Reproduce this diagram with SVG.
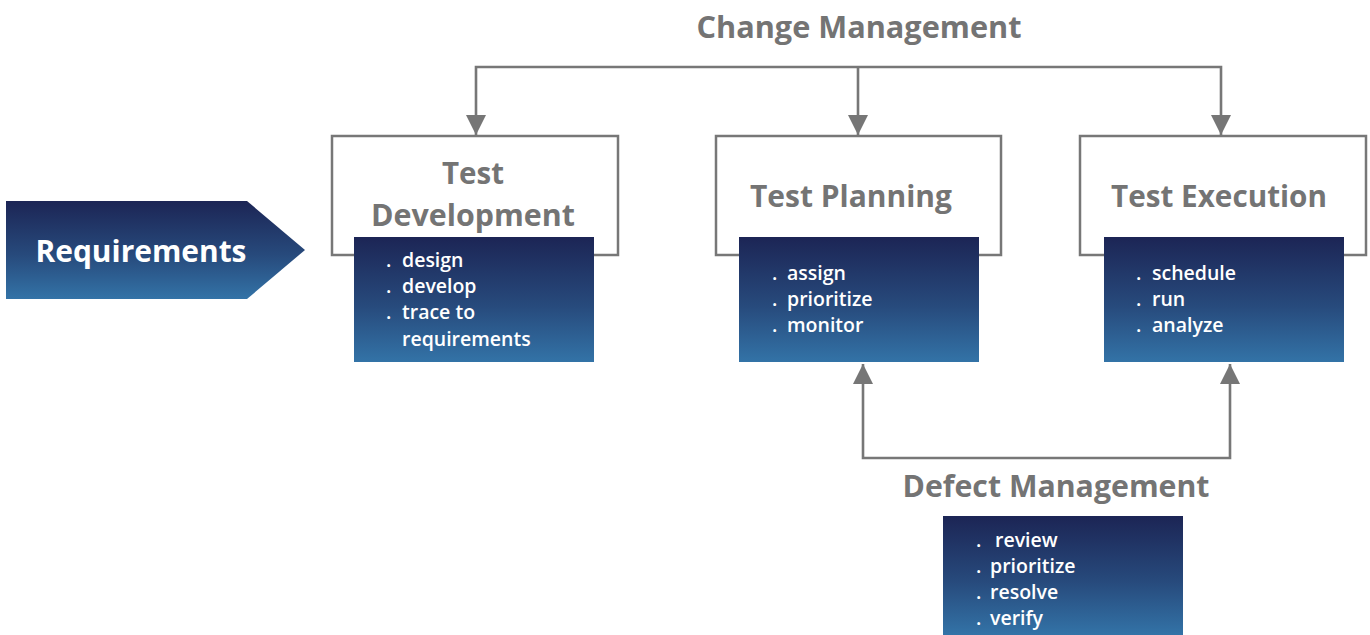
<svg xmlns="http://www.w3.org/2000/svg" width="1370" height="635" viewBox="0 0 1370 635">
  <defs>
    <linearGradient id="navy" x1="0" y1="0" x2="0" y2="1">
      <stop offset="0" stop-color="#1c2555"/>
      <stop offset="0.55" stop-color="#274a7c"/>
      <stop offset="1" stop-color="#3373a7"/>
    </linearGradient>
    <marker id="head" viewBox="0 0 20 20" refX="20" refY="10" markerWidth="20" markerHeight="20" markerUnits="userSpaceOnUse" orient="auto">
      <path d="M0,0 L20,10 L0,20 z" fill="#767676"/>
    </marker>
    <style>
      .frame { fill: #ffffff; stroke: #777777; stroke-width: 2.5; }
      .panel { fill: url(#navy); }
      .title { font-family: "Open Sans", "Liberation Sans", sans-serif; font-weight: 700; font-size: 30px; fill: #747474; text-anchor: middle; }
      .item { font-family: "Open Sans", "Liberation Sans", sans-serif; font-weight: 600; font-size: 19.5px; fill: #ffffff; }
      .link { fill: none; stroke: #777777; stroke-width: 2.6; marker-end: url(#head); }
    </style>
  </defs>

  <rect width="1370" height="635" fill="#ffffff"/>

  <!-- connectors -->
  <g id="connectors">
    <path class="link" d="M858,67 H476 V135"/>
    <path class="link" d="M858,67 V135"/>
    <path class="link" d="M858,67 H1221 V135"/>
    <path class="link" d="M1046,458 H863 V364"/>
    <path class="link" d="M1046,458 H1230 V364"/>
  </g>

  <!-- headings over the connectors -->
  <g id="change-management">
    <text class="title" x="859" y="38" textLength="325" lengthAdjust="spacingAndGlyphs">Change Management</text>
  </g>
  <g id="defect-management">
    <text class="title" x="1056" y="497" textLength="307" lengthAdjust="spacingAndGlyphs">Defect Management</text>
    <rect class="panel" x="943" y="516" width="240" height="119"/>
    <text class="item" x="976" y="547">.</text>
    <text class="item" x="995" y="547">review</text>
    <text class="item" x="976" y="573">.</text>
    <text class="item" x="990" y="573">prioritize</text>
    <text class="item" x="976" y="599">.</text>
    <text class="item" x="990" y="599">resolve</text>
    <text class="item" x="976" y="625">.</text>
    <text class="item" x="990" y="625">verify</text>
  </g>

  <!-- input arrow -->
  <g id="requirements">
    <polygon class="panel" points="6,201 247,201 305,250 247,299 6,299"/>
    <text x="141" y="262" font-family="Open Sans, Liberation Sans, sans-serif" font-weight="700" font-size="31" fill="#ffffff" text-anchor="middle" textLength="211" lengthAdjust="spacingAndGlyphs">Requirements</text>
  </g>

  <g id="test-development">
    <rect class="frame" x="332" y="136" width="286" height="119"/>
    <text class="title" x="473" y="184" textLength="62" lengthAdjust="spacingAndGlyphs">Test</text>
    <text class="title" x="473" y="226" textLength="204" lengthAdjust="spacingAndGlyphs">Development</text>
    <rect class="panel" x="354" y="237" width="240" height="125"/>
    <text class="item" x="386" y="267">.</text>
    <text class="item" x="402" y="267">design</text>
    <text class="item" x="386" y="293">.</text>
    <text class="item" x="402" y="293">develop</text>
    <text class="item" x="386" y="319">.</text>
    <text class="item" x="402" y="319">trace to</text>
    <text class="item" x="402" y="346">requirements</text>
  </g>

  <g id="test-planning">
    <rect class="frame" x="716" y="136" width="285" height="119"/>
    <text class="title" x="851" y="207" textLength="202" lengthAdjust="spacingAndGlyphs">Test Planning</text>
    <rect class="panel" x="739" y="237" width="240" height="125"/>
    <text class="item" x="772" y="280">.</text>
    <text class="item" x="787" y="280">assign</text>
    <text class="item" x="772" y="306">.</text>
    <text class="item" x="787" y="306">prioritize</text>
    <text class="item" x="772" y="332">.</text>
    <text class="item" x="787" y="332">monitor</text>
  </g>

  <g id="test-execution">
    <rect class="frame" x="1080" y="136" width="286" height="119"/>
    <text class="title" x="1219" y="207" textLength="216" lengthAdjust="spacingAndGlyphs">Test Execution</text>
    <rect class="panel" x="1104" y="237" width="240" height="125"/>
    <text class="item" x="1136" y="280">.</text>
    <text class="item" x="1152" y="280">schedule</text>
    <text class="item" x="1136" y="306">.</text>
    <text class="item" x="1152" y="306">run</text>
    <text class="item" x="1136" y="332">.</text>
    <text class="item" x="1152" y="332">analyze</text>
  </g>
</svg>
